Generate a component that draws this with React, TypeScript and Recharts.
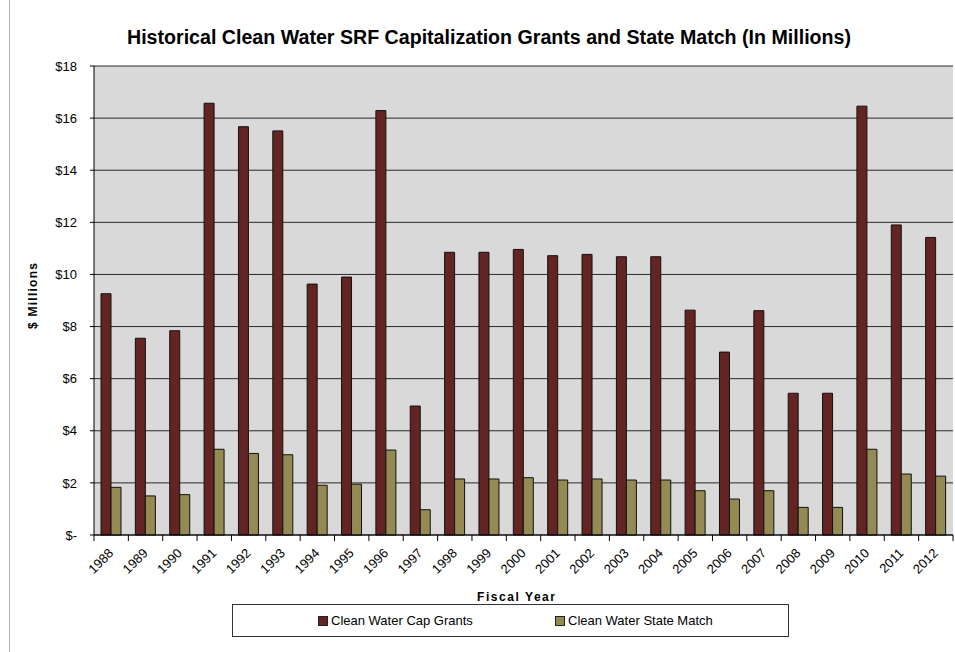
import React from 'react';
import { BarChart, Bar, XAxis, YAxis, CartesianGrid } from 'recharts';

const years = [
  '1988', '1989', '1990', '1991', '1992', '1993', '1994', '1995', '1996', '1997',
  '1998', '1999', '2000', '2001', '2002', '2003', '2004', '2005', '2006', '2007',
  '2008', '2009', '2010', '2011', '2012',
];

// $ millions per fiscal year
const capGrants = [
  9.26, 7.55, 7.84, 16.57, 15.67, 15.51, 9.63, 9.9, 16.29, 4.95,
  10.85, 10.85, 10.96, 10.72, 10.77, 10.68, 10.68, 8.63, 7.02, 8.61,
  5.44, 5.44, 16.46, 11.9, 11.42,
];
const stateMatch = [
  1.83, 1.5, 1.55, 3.29, 3.13, 3.08, 1.91, 1.95, 3.26, 0.97,
  2.15, 2.15, 2.2, 2.11, 2.15, 2.11, 2.11, 1.7, 1.38, 1.7,
  1.06, 1.06, 3.29, 2.34, 2.26,
];

const seriesNames = ['Clean Water Cap Grants', 'Clean Water State Match'];
const yTicks = [0, 2, 4, 6, 8, 10, 12, 14, 16, 18];

const title = 'Historical Clean Water SRF Capitalization  Grants and State Match (In Millions)';
const xTitle = 'Fiscal Year';
const yTitle = '$ Millions';

const W = 955;
const H = 652;
const PLOT_LEFT = 94;
const PLOT_RIGHT = 953;
const PLOT_TOP = 66;
const PLOT_BOTTOM = 535;
const Y_AXIS_W = 60;
const X_AXIS_H = 60;
const BAND = (PLOT_RIGHT - PLOT_LEFT) / years.length;

const FONT = '"Liberation Sans", Arial, sans-serif';
const RED = '#632523';
const OLIVE = '#948a54';

const data = years.map((year, i) => ({
  year,
  grants: capGrants[i],
  match: stateMatch[i],
}));

// Excel-style ticks sit on category boundaries, labels slanted under the centre
function YearTick(props: any) {
  const { x, y, payload, index } = props;
  const left = x - BAND / 2;
  const right = x + BAND / 2;
  return (
    <g>
      <line x1={left} x2={left} y1={y - 6} y2={y} stroke="#000" />
      {index === years.length - 1 && (
        <line x1={right} x2={right} y1={y - 6} y2={y} stroke="#000" />
      )}
      <text
        transform={`translate(${x + 3},${y + 13}) rotate(-45)`}
        textAnchor="end"
        fontSize={13}
        fontFamily={FONT}
        fill="#000"
      >
        {payload.value}
      </text>
    </g>
  );
}

function LegendBox() {
  const colors = [RED, OLIVE];
  const offsets = [85, 322];
  return (
    <div
      style={{
        position: 'absolute',
        left: 232,
        top: 604,
        width: 557,
        height: 33,
        border: '1px solid #333',
        boxSizing: 'border-box',
        background: '#fff',
        fontFamily: FONT,
        fontSize: 13,
        color: '#000',
      }}
    >
      {seriesNames.map((name, i) => (
        <div
          key={name}
          style={{
            position: 'absolute',
            left: offsets[i],
            top: 0,
            height: 31,
            display: 'flex',
            alignItems: 'center',
            whiteSpace: 'nowrap',
          }}
        >
          <span
            style={{
              display: 'inline-block',
              width: 8,
              height: 8,
              background: colors[i],
              border: '1px solid #222',
              marginRight: 3,
            }}
          />
          {name}
        </div>
      ))}
    </div>
  );
}

export default function App() {
  return (
    <div style={{ position: 'relative', width: W, height: H, background: '#fff' }}>
      <style>{'body{margin:0}'}</style>
      <div style={{ position: 'absolute', left: 9, top: 0, width: 1, height: H, background: '#b0b0b0' }} />
      <BarChart
        width={W}
        height={H}
        data={data}
        barGap={0}
        margin={{
          top: PLOT_TOP,
          right: W - PLOT_RIGHT,
          left: PLOT_LEFT - Y_AXIS_W,
          bottom: H - PLOT_BOTTOM - X_AXIS_H,
        }}
      >
        <CartesianGrid vertical={false} fill="#d9d9d9" fillOpacity={1} stroke="#2a2a2a" />
        <XAxis
          dataKey="year"
          interval={0}
          height={X_AXIS_H}
          tickSize={6}
          tickMargin={0}
          tickLine={false}
          axisLine={{ stroke: '#000' }}
          tick={<YearTick />}
        />
        <YAxis
          width={Y_AXIS_W}
          domain={[0, 18]}
          ticks={yTicks}
          interval={0}
          tickSize={4}
          tickMargin={13}
          axisLine={{ stroke: '#000' }}
          tickLine={{ stroke: '#000' }}
          tick={{ fontSize: 13, fill: '#000', fontFamily: FONT }}
          tickFormatter={(v: number) => (v === 0 ? '$-' : `$${v}`)}
        />
        <Bar
          dataKey="grants"
          name={seriesNames[0]}
          fill={RED}
          stroke="#111"
          strokeWidth={1}
          barSize={10}
          isAnimationActive={false}
        />
        <Bar
          dataKey="match"
          name={seriesNames[1]}
          fill={OLIVE}
          stroke="#111"
          strokeWidth={1}
          barSize={10}
          isAnimationActive={false}
        />
      </BarChart>
      <svg
        width={W}
        height={H}
        style={{ position: 'absolute', left: 0, top: 0, pointerEvents: 'none' }}
      >
        <text
          x={489}
          y={44}
          textAnchor="middle"
          fontFamily={FONT}
          fontWeight="bold"
          fontSize={20}
          textLength={724}
          lengthAdjust="spacingAndGlyphs"
          fill="#000"
        >
          {title}
        </text>
        <text
          x={516}
          y={601}
          textAnchor="middle"
          fontFamily={FONT}
          fontWeight="bold"
          fontSize={12}
          textLength={78}
          lengthAdjust="spacing"
          fill="#000"
        >
          {xTitle}
        </text>
        <text
          transform="translate(37,296) rotate(-90)"
          textAnchor="middle"
          fontFamily={FONT}
          fontWeight="bold"
          fontSize={12}
          textLength={66}
          lengthAdjust="spacing"
          fill="#000"
        >
          {yTitle}
        </text>
      </svg>
      <LegendBox />
    </div>
  );
}
